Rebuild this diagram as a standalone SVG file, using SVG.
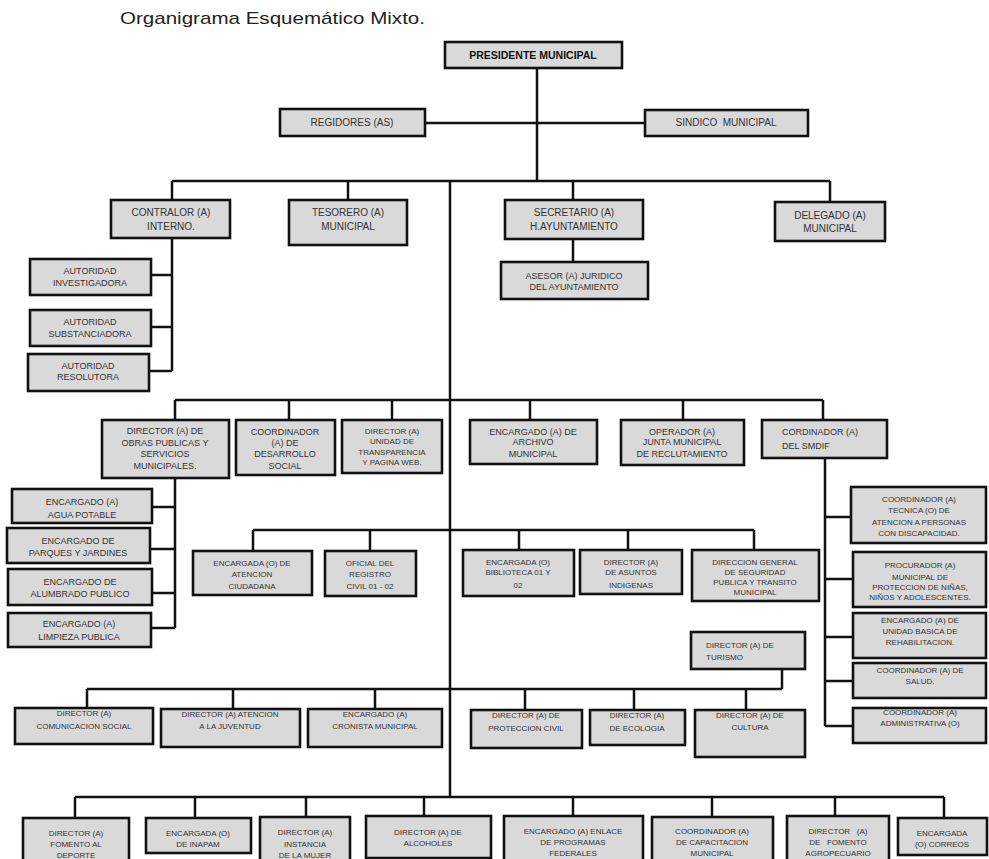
<svg xmlns="http://www.w3.org/2000/svg" width="989" height="859" viewBox="0 0 989 859">
<style>
.bx{fill:#d9d9d9;stroke:#111;stroke-width:2.6}
.cn{fill:none;stroke:#111;stroke-width:2.5}
text{font-family:"Liberation Sans",Arial,sans-serif;fill:#333;text-anchor:middle}
.a{font-size:10px}
.b{font-size:9px}
.c{font-size:8px}
.l{text-anchor:start}
.h{font-size:10.5px;font-weight:bold;fill:#111}
.ttl{font-size:17px;fill:#222;text-anchor:start}
</style>
<rect width="989" height="859" fill="#fff"/>
<text class="ttl" x="120" y="24" textLength="305" lengthAdjust="spacingAndGlyphs">Organigrama Esquemático Mixto.</text>
<g id="connectors">
<path class="cn" d="M537,68V181M425,123H645M172,181H830M172,181V200M348,181V200M573,181V200M830,181V202M573,239V262M450,181V797"/>
<path class="cn" d="M172,238V371M151,275H172M151,327H172M149,371H172"/>
<path class="cn" d="M175,400H823M175,400V420M289,400V420M392,400V420M530,400V420M683,400V420M823,400V420"/>
<path class="cn" d="M175,478V628M152,507H175M150,549H175M152,593H175M151,628H175"/>
<path class="cn" d="M825,458V726M825,517H851M825,579H853M825,637H853M825,681H853M825,726H853"/>
<path class="cn" d="M253,530H754M253,530V551M370,530V551M519,530V550M628,530V550M754,530V550"/>
<path class="cn" d="M782,669V689M87,689H782M87,689V708M233,689V709M375,689V709M525,689V710M634,689V710M746,689V710"/>
<path class="cn" d="M75,797H944M75,797V818M195,797V818M306,797V817M424,797V816M573,797V816M712,797V817M835,797V816M944,797V818"/>
</g>
<g id="n-presidente"><rect class="bx" x="445" y="42" width="177" height="26"/><text class="h" x="533" y="59">PRESIDENTE MUNICIPAL</text></g>
<g id="n-regidores"><rect class="bx" x="280" y="109" width="145" height="27"/><text class="a" x="352" y="126">REGIDORES (AS)</text></g>
<g id="n-sindico"><rect class="bx" x="645" y="110" width="163" height="26"/><text class="a" x="726" y="126" xml:space="preserve">SINDICO  MUNICIPAL</text></g>
<g id="n-contralor"><rect class="bx" x="111" y="200" width="119" height="38"/><text class="a" x="171" y="216">CONTRALOR (A)</text><text class="a" x="171" y="230">INTERNO.</text></g>
<g id="n-tesorero"><rect class="bx" x="289" y="200" width="118" height="45"/><text class="a" x="348" y="216">TESORERO (A)</text><text class="a" x="348" y="230">MUNICIPAL</text></g>
<g id="n-secretario"><rect class="bx" x="505" y="200" width="138" height="39"/><text class="a" x="574" y="216">SECRETARIO (A)</text><text class="a" x="574" y="230">H.AYUNTAMIENTO</text></g>
<g id="n-delegado"><rect class="bx" x="775" y="202" width="110" height="39"/><text class="a" x="830" y="219">DELEGADO (A)</text><text class="a" x="830" y="232">MUNICIPAL</text></g>
<g id="n-asesor"><rect class="bx" x="501" y="262" width="147" height="37"/><text class="b" x="574" y="279">ASESOR (A) JURIDICO</text><text class="b" x="574" y="290">DEL AYUNTAMIENTO</text></g>
<g id="n-aut-inv"><rect class="bx" x="30" y="259" width="121" height="36"/><text class="b" x="90" y="274">AUTORIDAD</text><text class="b" x="90" y="286">INVESTIGADORA</text></g>
<g id="n-aut-sub"><rect class="bx" x="30" y="310" width="121" height="36"/><text class="b" x="90" y="325">AUTORIDAD</text><text class="b" x="90" y="337">SUBSTANCIADORA</text></g>
<g id="n-aut-res"><rect class="bx" x="28" y="354" width="121" height="37"/><text class="b" x="88" y="369">AUTORIDAD</text><text class="b" x="88" y="380">RESOLUTORA</text></g>
<g id="n-obras"><rect class="bx" x="102" y="420" width="127" height="58"/><text class="b" x="165" y="434">DIRECTOR (A) DE</text><text class="b" x="165" y="445.5">OBRAS PUBLICAS Y</text><text class="b" x="165" y="457">SERVICIOS</text><text class="b" x="165" y="468.5">MUNICIPALES.</text></g>
<g id="n-desarrollo"><rect class="bx" x="236" y="420" width="99" height="55"/><text class="b" x="285" y="435">COORDINADOR</text><text class="b" x="285" y="446">(A) DE</text><text class="b" x="285" y="457">DESARROLLO</text><text class="b" x="285" y="469">SOCIAL</text></g>
<g id="n-transparencia"><rect class="bx" x="342" y="420" width="100" height="53"/><text class="c" x="392" y="434">DIRECTOR (A)</text><text class="c" x="392" y="444">UNIDAD DE</text><text class="c" x="392" y="455">TRANSPARENCIA</text><text class="c" x="392" y="465">Y PAGINA WEB.</text></g>
<g id="n-archivo"><rect class="bx" x="470" y="420" width="127" height="44"/><text class="b" x="533" y="435">ENCARGADO (A) DE</text><text class="b" x="533" y="445">ARCHIVO</text><text class="b" x="533" y="457">MUNICIPAL</text></g>
<g id="n-operador"><rect class="bx" x="621" y="420" width="123" height="45"/><text class="b" x="682" y="435">OPERADOR (A)</text><text class="b" x="682" y="445">JUNTA MUNICIPAL</text><text class="b" x="682" y="457">DE RECLUTAMIENTO</text></g>
<g id="n-dif"><rect class="bx" x="762" y="420" width="125" height="38"/><text class="b l" x="782" y="435">CORDINADOR (A)</text><text class="b l" x="782" y="449">DEL SMDIF</text></g>
<g id="n-discapacidad"><rect class="bx" x="851" y="487" width="135" height="56"/><text class="c" x="919" y="502">COORDINADOR (A)</text><text class="c" x="919" y="513">TECNICA (O) DE</text><text class="c" x="919" y="525">ATENCION A PERSONAS</text><text class="c" x="919" y="536">CON DISCAPACIDAD.</text></g>
<g id="n-procurador"><rect class="bx" x="853" y="552" width="133" height="55"/><text class="c" x="920" y="568">PROCURADOR (A)</text><text class="c" x="920" y="580">MUNICIPAL DE</text><text class="c" x="920" y="590">PROTECCION DE NIÑAS,</text><text class="c" x="920" y="600">NIÑOS Y ADOLESCENTES.</text></g>
<g id="n-rehab"><rect class="bx" x="853" y="613" width="133" height="45"/><text class="c" x="920" y="623">ENCARGADO (A) DE</text><text class="c" x="920" y="634">UNIDAD BASICA DE</text><text class="c" x="920" y="645">REHABILITACION.</text></g>
<g id="n-salud"><rect class="bx" x="853" y="663" width="133" height="35"/><text class="c" x="920" y="673">COORDINADOR (A) DE</text><text class="c" x="920" y="684">SALUD.</text></g>
<g id="n-admin"><rect class="bx" x="853" y="708" width="133" height="35"/><text class="c" x="920" y="715">COORDINADOR (A)</text><text class="c" x="920" y="726">ADMINISTRATIVA (O)</text></g>
<g id="n-agua"><rect class="bx" x="12" y="489" width="140" height="34"/><text class="b" x="82" y="505">ENCARGADO (A)</text><text class="b" x="82" y="518">AGUA POTABLE</text></g>
<g id="n-parques"><rect class="bx" x="7" y="528" width="143" height="35"/><text class="b" x="78" y="544">ENCARGADO DE</text><text class="b" x="78" y="556">PARQUES Y JARDINES</text></g>
<g id="n-alumbrado"><rect class="bx" x="8" y="569" width="144" height="36"/><text class="b" x="80" y="585">ENCARGADO DE</text><text class="b" x="80" y="597">ALUMBRADO PUBLICO</text></g>
<g id="n-limpieza"><rect class="bx" x="8" y="613" width="143" height="34"/><text class="b" x="79" y="627">ENCARGADO (A)</text><text class="b" x="79" y="640">LIMPIEZA PUBLICA</text></g>
<g id="n-atencion"><rect class="bx" x="193" y="551" width="119" height="44"/><text class="c" x="252" y="566">ENCARGADA (O) DE</text><text class="c" x="252" y="577">ATENCION</text><text class="c" x="252" y="589">CIUDADANA</text></g>
<g id="n-registro"><rect class="bx" x="325" y="551" width="91" height="45"/><text class="c" x="370" y="566">OFICIAL DEL</text><text class="c" x="370" y="577">REGISTRO</text><text class="c" x="370" y="589">CIVIL 01 - 02</text></g>
<g id="n-biblioteca"><rect class="bx" x="463" y="550" width="111" height="46"/><text class="c" x="518" y="565">ENCARGADA (O)</text><text class="c" x="518" y="575">BIBLIOTECA 01 Y</text><text class="c" x="518" y="588">02</text></g>
<g id="n-asuntos"><rect class="bx" x="580" y="550" width="102" height="44"/><text class="c" x="631" y="565">DIRECTOR (A)</text><text class="c" x="631" y="575">DE ASUNTOS</text><text class="c" x="631" y="588">INDIGENAS</text></g>
<g id="n-seguridad"><rect class="bx" x="692" y="550" width="127" height="51"/><text class="c" x="755" y="565">DIRECCION GENERAL</text><text class="c" x="755" y="575">DE SEGURIDAD</text><text class="c" x="755" y="585">PUBLICA Y TRANSITO</text><text class="c" x="755" y="595">MUNICIPAL</text></g>
<g id="n-turismo"><rect class="bx" x="691" y="632" width="114" height="37"/><text class="c l" x="706" y="648">DIRECTOR (A) DE</text><text class="c l" x="706" y="660">TURISMO</text></g>
<g id="n-comunicacion"><rect class="bx" x="15" y="708" width="138" height="36"/><text class="c" x="84" y="716">DIRECTOR (A)</text><text class="c" x="84" y="729">COMUNICACION SOCIAL</text></g>
<g id="n-juventud"><rect class="bx" x="161" y="709" width="139" height="38"/><text class="c" x="230" y="717">DIRECTOR (A) ATENCION</text><text class="c" x="230" y="729">A LA JUVENTUD</text></g>
<g id="n-cronista"><rect class="bx" x="308" y="709" width="134" height="38"/><text class="c" x="375" y="717">ENCARGADO (A)</text><text class="c" x="375" y="729">CRONISTA MUNICIPAL</text></g>
<g id="n-proteccion"><rect class="bx" x="471" y="710" width="111" height="38"/><text class="c" x="526" y="718">DIRECTOR (A) DE</text><text class="c" x="526" y="731">PROTECCION CIVIL</text></g>
<g id="n-ecologia"><rect class="bx" x="590" y="710" width="95" height="35"/><text class="c" x="637" y="718">DIRECTOR (A)</text><text class="c" x="637" y="731">DE ECOLOGIA</text></g>
<g id="n-cultura"><rect class="bx" x="695" y="710" width="110" height="47"/><text class="c" x="750" y="718">DIRECTOR (A) DE</text><text class="c" x="750" y="730">CULTURA</text></g>
<g id="n-deporte"><rect class="bx" x="23" y="818" width="106" height="46"/><text class="c" x="76" y="836">DIRECTOR (A)</text><text class="c" x="76" y="847">FOMENTO AL</text><text class="c" x="76" y="858">DEPORTE</text></g>
<g id="n-inapam"><rect class="bx" x="146" y="818" width="105" height="35"/><text class="c" x="198" y="836">ENCARGADA (O)</text><text class="c" x="198" y="847">DE INAPAM</text></g>
<g id="n-mujer"><rect class="bx" x="260" y="817" width="90" height="47"/><text class="c" x="305" y="835">DIRECTOR (A)</text><text class="c" x="305" y="847">INSTANCIA</text><text class="c" x="305" y="858">DE LA MUJER</text></g>
<g id="n-alcoholes"><rect class="bx" x="366" y="816" width="125" height="42"/><text class="c" x="428" y="835">DIRECTOR (A) DE</text><text class="c" x="428" y="846">ALCOHOLES</text></g>
<g id="n-enlace"><rect class="bx" x="504" y="816" width="139" height="48"/><text class="c" x="573" y="834">ENCARGADO (A) ENLACE</text><text class="c" x="573" y="845">DE PROGRAMAS</text><text class="c" x="573" y="856">FEDERALES</text></g>
<g id="n-capacitacion"><rect class="bx" x="652" y="817" width="121" height="47"/><text class="c" x="712" y="834">COORDINADOR (A)</text><text class="c" x="712" y="845">DE CAPACITACION</text><text class="c" x="712" y="856">MUNICIPAL</text></g>
<g id="n-agropecuario"><rect class="bx" x="787" y="816" width="102" height="48"/><text class="c" x="838" y="834" xml:space="preserve">DIRECTOR   (A)</text><text class="c" x="838" y="845" xml:space="preserve">DE   FOMENTO</text><text class="c" x="838" y="856">AGROPECUARIO</text></g>
<g id="n-correos"><rect class="bx" x="898" y="818" width="89" height="37"/><text class="c" x="942" y="836">ENCARGADA</text><text class="c" x="942" y="847">(O) CORREOS</text></g>
</svg>
